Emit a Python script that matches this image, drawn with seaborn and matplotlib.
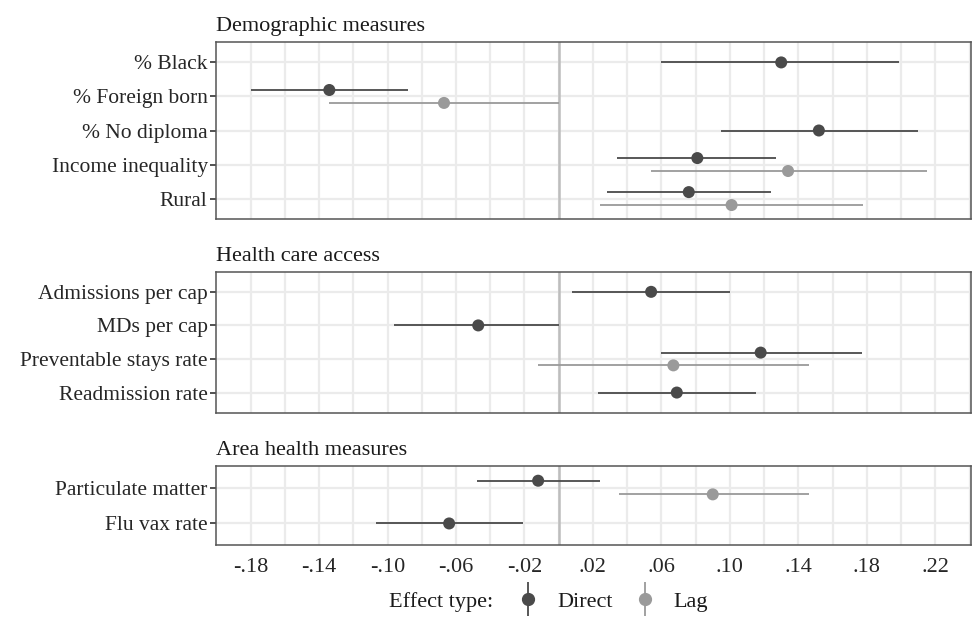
import numpy as np
import pandas as pd
import seaborn as sns
import matplotlib
matplotlib.use("Agg")
from matplotlib import pyplot as plt
from matplotlib.lines import Line2D
from matplotlib.legend_handler import HandlerTuple

# Panel titles and row labels
panel_titles = ["Demographic measures", "Health care access", "Area health measures"]
demo_labels = ["% Black", "% Foreign born", "% No diploma", "Income inequality", "Rural"]
care_labels = ["Admissions per cap", "MDs per cap", "Preventable stays rate", "Readmission rate"]
area_labels = ["Particulate matter", "Flu vax rate"]

# Direct effects: estimate, lower, upper
demo_direct = [0.130, -0.134, 0.152, 0.081, 0.076]
demo_direct_lo = [0.060, -0.180, 0.095, 0.034, 0.028]
demo_direct_hi = [0.199, -0.088, 0.210, 0.127, 0.124]
care_direct = [0.054, -0.047, 0.118, 0.069]
care_direct_lo = [0.008, -0.096, 0.060, 0.023]
care_direct_hi = [0.100, 0.000, 0.177, 0.115]
area_direct = [-0.012, -0.064]
area_direct_lo = [-0.048, -0.107]
area_direct_hi = [0.024, -0.021]

# Lag effects (None = not shown)
demo_lag = [None, -0.067, None, 0.134, 0.101]
demo_lag_lo = [None, -0.134, None, 0.054, 0.024]
demo_lag_hi = [None, 0.000, None, 0.215, 0.178]
care_lag = [None, None, 0.067, None]
care_lag_lo = [None, None, -0.012, None]
care_lag_hi = [None, None, 0.146, None]
area_lag = [0.090, None]
area_lag_lo = [0.035, None]
area_lag_hi = [0.146, None]

x_ticks = [-0.18, -0.14, -0.10, -0.06, -0.02, 0.02, 0.06, 0.10, 0.14, 0.18, 0.22]
x_tick_labels = ["-.18", "-.14", "-.10", "-.06", "-.02", ".02", ".06", ".10", ".14", ".18", ".22"]

colors = {"Direct": "#4a4a4a", "Lag": "#9a9a9a"}

panels = [
    (panel_titles[0], demo_labels, demo_direct, demo_direct_lo, demo_direct_hi, demo_lag, demo_lag_lo, demo_lag_hi),
    (panel_titles[1], care_labels, care_direct, care_direct_lo, care_direct_hi, care_lag, care_lag_lo, care_lag_hi),
    (panel_titles[2], area_labels, area_direct, area_direct_lo, area_direct_hi, area_lag, area_lag_lo, area_lag_hi),
]


def build_frame(labels, d, dlo, dhi, l, llo, lhi):
    rows = []
    for i, lab in enumerate(labels):
        both = l[i] is not None
        rows.append(dict(label=lab, pos=i - (0.19 if both else 0), est=d[i], lo=dlo[i], hi=dhi[i], effect="Direct"))
        if both:
            rows.append(dict(label=lab, pos=i + 0.19, est=l[i], lo=llo[i], hi=lhi[i], effect="Lag"))
    return pd.DataFrame(rows)


sns.set_theme(style="whitegrid")
plt.rcParams["font.family"] = ["Liberation Serif", "DejaVu Serif"]
plt.rcParams["text.color"] = "#1a1a1a"

fig = plt.figure(figsize=(9.72, 6.17), dpi=100)
W, H = 972, 617
left_px, right_px = 216, 970.7
panel_px = [(42, 219), (271.7, 412.7), (466, 545)]
fs = 16

for k, (title, labels, d, dlo, dhi, l, llo, lhi) in enumerate(panels):
    top, bot = panel_px[k]
    ax = fig.add_axes([left_px / W, 1 - bot / H, (right_px - left_px) / W, (bot - top) / H])
    df = build_frame(labels, d, dlo, dhi, l, llo, lhi)
    n = len(labels)

    # grid
    for gx in np.arange(-0.18, 0.241, 0.02):
        ax.axvline(gx, color="#ebebeb", lw=1.6, zorder=0)
    for gy in range(n):
        ax.axhline(gy, color="#ebebeb", lw=1.6, zorder=0)
    ax.axvline(0, color="#bdbdbd", lw=1.8, zorder=1)

    for eff, sub in df.groupby("effect"):
        ax.hlines(sub["pos"], sub["lo"], sub["hi"], color=colors[eff], lw=1.3, zorder=2)
    sns.scatterplot(data=df, x="est", y="pos", hue="effect", palette=colors, s=75,
                    edgecolor="none", legend=False, ax=ax, zorder=3)

    ax.grid(False)
    ax.set_xlim(-0.2002, 0.2407)
    ax.set_ylim(n - 1 + 0.6, -0.6)
    ax.set_yticks(range(n))
    ax.set_yticklabels(labels, fontsize=15.5)
    ax.set_xlabel("")
    ax.set_ylabel("")
    ax.tick_params(axis="y", length=4, width=1.2, color="#333333", pad=2, left=True)
    if k == 2:
        ax.set_xticks(x_ticks)
        ax.set_xticklabels(x_tick_labels, fontsize=fs)
        ax.tick_params(axis="x", length=0, pad=9)
    else:
        ax.set_xticks([])
    for sp in ax.spines.values():
        sp.set_color("#555555")
        sp.set_linewidth(1.1)
    ax.set_title(title, loc="left", fontsize=fs, pad=8)

# legend
handles = []
for eff in ["Direct", "Lag"]:
    vline = Line2D([], [], marker="|", markersize=24, markeredgewidth=1.3, color=colors[eff], linestyle="none")
    dot = Line2D([], [], marker="o", markersize=8.5, color=colors[eff], linestyle="none")
    handles.append((vline, dot))
fig.text(389 / W, 1 - 602 / H, "Effect type:", fontsize=fs, va="center", ha="left")
fig.legend(handles, ["Direct", "Lag"], handler_map={tuple: HandlerTuple(ndivide=1, pad=0)},
           loc="center left", bbox_to_anchor=(517 / W, 1 - 602 / H), ncol=2, frameon=False,
           fontsize=fs, handlelength=1.0, handletextpad=0.8, columnspacing=0.95,
           borderaxespad=0, borderpad=0)

fig.savefig("out.png", dpi=100)
